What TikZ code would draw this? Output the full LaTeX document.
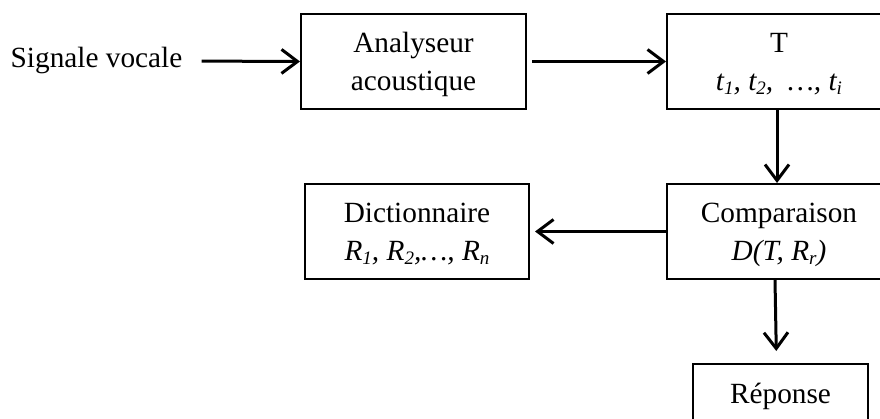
\documentclass[tikz,border=0pt]{standalone}
\usepackage{fontspec}
\setmainfont{Liberation Serif}
\usetikzlibrary{arrows.meta}
\newcommand\boxfont{\fontsize{29.3}{38}\selectfont}
% lowered index in a slightly smaller size
\newcommand\idx[1]{\raisebox{-4pt}{\fontsize{19}{19}\selectfont #1}}
\tikzset{
  block/.style={draw, line width=2pt, inner sep=0pt, align=center, font=\boxfont,
    text height=58pt, text depth=0pt},
  flow/.style={line width=3pt, -{Straight Barb[length=16pt,width=24pt]}},
}
\begin{document}
\begin{tikzpicture}[x=1pt,y=-1pt]
  \useasboundingbox (0,0) rectangle (880,419);
  \clip (0,0) rectangle (880,419);

  % input label
  \node[font=\boxfont, inner sep=0pt] (sig) at (96.5,61) {Signale vocale};

  % processing chain
  \node[block, minimum width=225pt, minimum height=95pt] (ana) at (413.5,61.5)
    {Analyseur\\acoustique};
  \node[block, minimum width=224pt, minimum height=95pt] (tv) at (779,61.5)
    {T\\\textit{t\idx{1}, t\idx{2}, \ …, t\idx{i}}};
  \node[block, minimum width=224pt, minimum height=95pt] (cmp) at (779,231.5)
    {Comparaison\\\textit{D(T, R\idx{r})}};
  \node[block, minimum width=224pt, minimum height=95pt] (dic) at (417,231.5)
    {Dictionnaire\\\textit{R\idx{1}, R\idx{2},…, R\idx{n}}};
  \node[block, minimum width=175pt, minimum height=58pt, text height=20pt] (rep) at (780.5,393)
    {Réponse};

  % connectors
  \draw[flow, shorten <=19pt] (sig.east) -- (ana.west);
  \draw[flow, shorten <=5pt] (ana.east) -- (ana.east -| tv.west);
  \draw[flow] ([xshift=-2pt]tv.south) -- ([xshift=-2pt]cmp.north);
  \draw[flow, shorten >=5pt] (cmp.west) -- (cmp.west -| dic.east);
  \draw[flow, shorten >=12pt] ([xshift=-4pt]cmp.south) -- ([xshift=-4pt]rep.north);
\end{tikzpicture}
\end{document}
